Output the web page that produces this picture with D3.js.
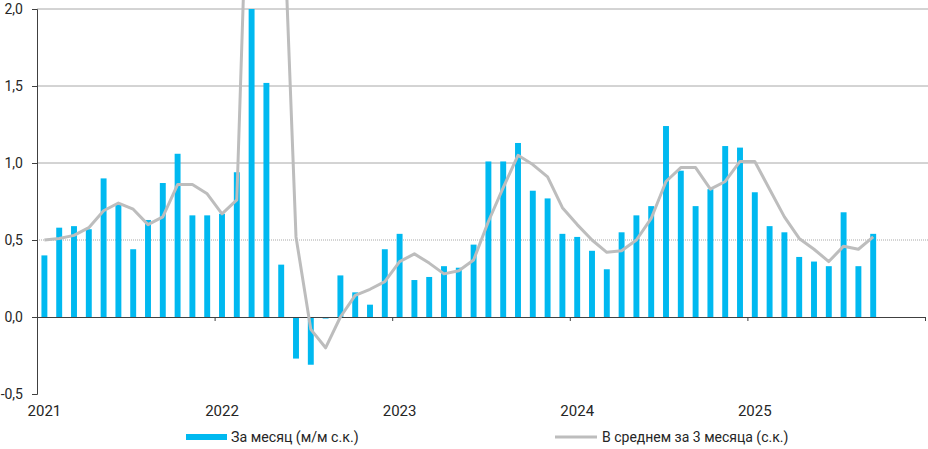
<!DOCTYPE html>
<html>
<head>
<meta charset="utf-8">
<script src="https://cdn.jsdelivr.net/npm/d3@7"></script>
<style>
  body { margin: 0; background: #fff; }
  text { font-family: Roboto, "Noto Sans", sans-serif; fill: #262626; }
</style>
</head>
<body>
<div id="container"></div>
<script>
// months Jan 2021 .. Dec 2025 (axis span), data through Sep 2025
const months = [];
for (let yr = 2021; yr <= 2025; yr++) {
  for (let m = 1; m <= 12; m++) months.push(yr + "-" + (m < 10 ? "0" + m : m));
}
const yearLabels = ["2021", "2022", "2023", "2024", "2025"];

// За месяц (м/м с.к.)
const monthly = [
  0.40, 0.58, 0.59, 0.57, 0.90, 0.73, 0.44, 0.63, 0.87, 1.06, 0.66, 0.66,
  0.67, 0.94, 7.60, 1.52, 0.34, -0.27, -0.31, -0.01, 0.27, 0.16, 0.08, 0.44,
  0.54, 0.24, 0.26, 0.33, 0.32, 0.47, 1.01, 1.01, 1.13, 0.82, 0.77, 0.54,
  0.52, 0.43, 0.31, 0.55, 0.66, 0.72, 1.24, 0.95, 0.72, 0.83, 1.11, 1.10,
  0.81, 0.59, 0.55, 0.39, 0.36, 0.33, 0.68, 0.33, 0.54
];
// В среднем за 3 месяца (с.к.)
const avg3 = [
  0.50, 0.51, 0.53, 0.58, 0.69, 0.74, 0.70, 0.60, 0.65, 0.86, 0.86, 0.80,
  0.67, 0.76, 3.73, 3.60, 3.04, 0.52, -0.08, -0.20, 0.00, 0.14, 0.18, 0.23,
  0.36, 0.41, 0.35, 0.28, 0.30, 0.37, 0.62, 0.84, 1.05, 0.99, 0.91, 0.71,
  0.60, 0.50, 0.42, 0.43, 0.50, 0.64, 0.88, 0.97, 0.97, 0.83, 0.88, 1.01,
  1.01, 0.83, 0.65, 0.51, 0.44, 0.36, 0.46, 0.44, 0.52
];
const yTicks = [-0.5, 0, 0.5, 1, 1.5, 2];

const w = 928, h = 449;
const padL = 37, padR = 925, padT = 9, padB = 394;
const barColor = "#00b9f0", lineColor = "#bdbdbd";

const svg = d3.select("#container").append("svg")
  .attr("width", w).attr("height", h);

const x = d3.scaleBand()
  .domain(months)
  .range([padL, padR])
  .paddingInner(0.6)
  .paddingOuter(0.3);

const y = d3.scaleLinear()
  .domain([-0.5, 2])
  .range([padB, padT]);

// gridlines
svg.append("g")
  .selectAll("line")
  .data(yTicks.filter(d => d > 0))
  .enter().append("line")
  .attr("x1", padL).attr("x2", w)
  .attr("y1", d => y(d)).attr("y2", d => y(d))
  .attr("stroke", "#a8a8a8")
  .attr("stroke-width", 1)
  .attr("stroke-dasharray", d => d === 0.5 ? "1,1" : null);

// clip bars at the top of the value axis
svg.append("clipPath").attr("id", "plot")
  .append("rect")
  .attr("x", padL).attr("y", padT)
  .attr("width", w - padL).attr("height", padB - padT);

svg.append("g")
  .attr("clip-path", "url(#plot)")
  .selectAll("rect")
  .data(monthly)
  .enter().append("rect")
  .attr("x", (d, i) => x(months[i]))
  .attr("width", x.bandwidth())
  .attr("y", d => y(Math.max(d, 0)))
  .attr("height", d => Math.abs(y(d) - y(0)))
  .attr("fill", barColor);

// zero axis with year-boundary ticks
const xb = d3.scaleLinear().domain([0, months.length]).range([padL, padR]);
svg.append("g")
  .attr("transform", "translate(0," + y(0) + ")")
  .call(d3.axisBottom(xb).tickValues([12, 24, 36, 48, 60]).tickSize(4).tickSizeOuter(0).tickFormat(""))
  .call(g => g.selectAll("path, line").attr("stroke", "#404040"));

// 3-month average line
const line = d3.line()
  .x((d, i) => x(months[i]) + x.bandwidth() / 2)
  .y(d => y(d));

svg.append("path")
  .datum(avg3)
  .attr("d", line)
  .attr("fill", "none")
  .attr("stroke", lineColor)
  .attr("stroke-width", 3)
  .attr("stroke-linejoin", "round");

// y axis
svg.append("g")
  .attr("transform", "translate(" + padL + ",0)")
  .call(d3.axisLeft(y).tickValues(yTicks).tickSize(5).tickPadding(9)
    .tickFormat(d => d3.format(".1f")(d).replace(".", ",").replace("−", "-")))
  .call(g => g.selectAll("path, line").attr("stroke", "#404040"))
  .call(g => g.selectAll("text").attr("font-size", 14).attr("fill", "#262626")
    .attr("font-family", "Roboto, sans-serif"));

// year labels
svg.append("g")
  .attr("transform", "translate(0," + padB + ")")
  .call(d3.axisBottom(x).tickValues(yearLabels.map(yr => yr + "-01")).tickSize(0).tickPadding(11)
    .tickFormat(d => d.slice(0, 4)))
  .call(g => g.select(".domain").remove())
  .call(g => g.selectAll("text").attr("font-size", 15).attr("fill", "#262626")
    .attr("font-family", "Roboto, sans-serif"));

// legend
const lg = svg.append("g");
lg.append("rect").attr("x", 186).attr("y", 434).attr("width", 41).attr("height", 6).attr("fill", barColor);
lg.append("text").attr("x", 231).attr("y", 442).attr("font-size", 14.2).text("За месяц (м/м с.к.)");
lg.append("line").attr("x1", 555).attr("x2", 597).attr("y1", 437).attr("y2", 437)
  .attr("stroke", lineColor).attr("stroke-width", 3);
lg.append("text").attr("x", 602).attr("y", 442).attr("font-size", 14).text("В среднем за 3 месяца (с.к.)");
</script>
</body>
</html>
